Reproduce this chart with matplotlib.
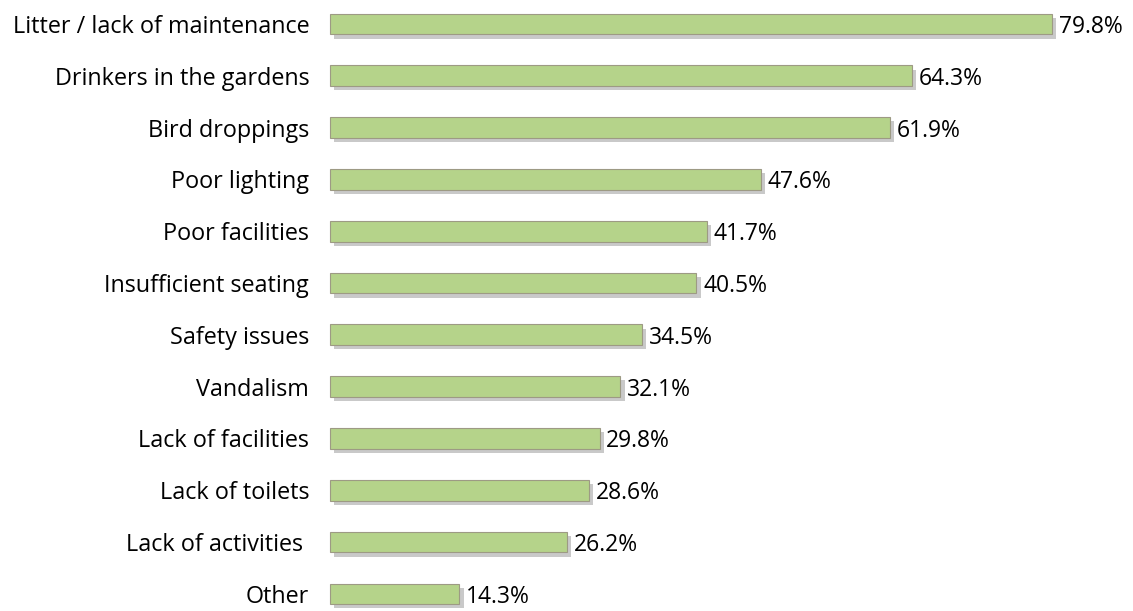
import matplotlib.pyplot as plt
from matplotlib import patheffects

plt.rcParams['font.family'] = ['Open Sans', 'DejaVu Sans']

# Reported problems with the gardens, share of respondents (%)
categories = ['Litter / lack of maintenance', 'Drinkers in the gardens', 'Bird droppings',
              'Poor lighting', 'Poor facilities', 'Insufficient seating', 'Safety issues',
              'Vandalism', 'Lack of facilities', 'Lack of toilets', 'Lack of activities ', 'Other']
values = [79.8, 64.3, 61.9, 47.6, 41.7, 40.5, 34.5, 32.1, 29.8, 28.6, 26.2, 14.3]

fig = plt.figure(figsize=(11.33, 6.11), dpi=100)
ax = fig.add_axes([330 / 1133, 0, 796 / 1133, 1])

pos = list(range(len(categories)))
bars = ax.barh(pos, values, height=0.4, color='#b5d38a', edgecolor='#9d9a84', linewidth=0.8,
               clip_on=False)
for b in bars:
    b.set_path_effects([patheffects.SimplePatchShadow(offset=(3, -3), shadow_rgbFace='#c9c9c9', alpha=1),
                        patheffects.Normal()])

for y, v in zip(pos, values):
    ax.text(v + 0.75, y, f'{v:.1f}%', va='center_baseline', ha='left', fontsize=16.5, color='#000000')

ax.set_xlim(0, 88)
ax.set_ylim(11.33, -0.463)
ax.set_yticks(pos)
ax.set_yticklabels(categories, fontsize=16.8, color='#000000')
ax.tick_params(axis='y', length=0, pad=15)
ax.set_xticks([])
for s in ax.spines.values():
    s.set_visible(False)

fig.savefig('out.png', dpi=100)
